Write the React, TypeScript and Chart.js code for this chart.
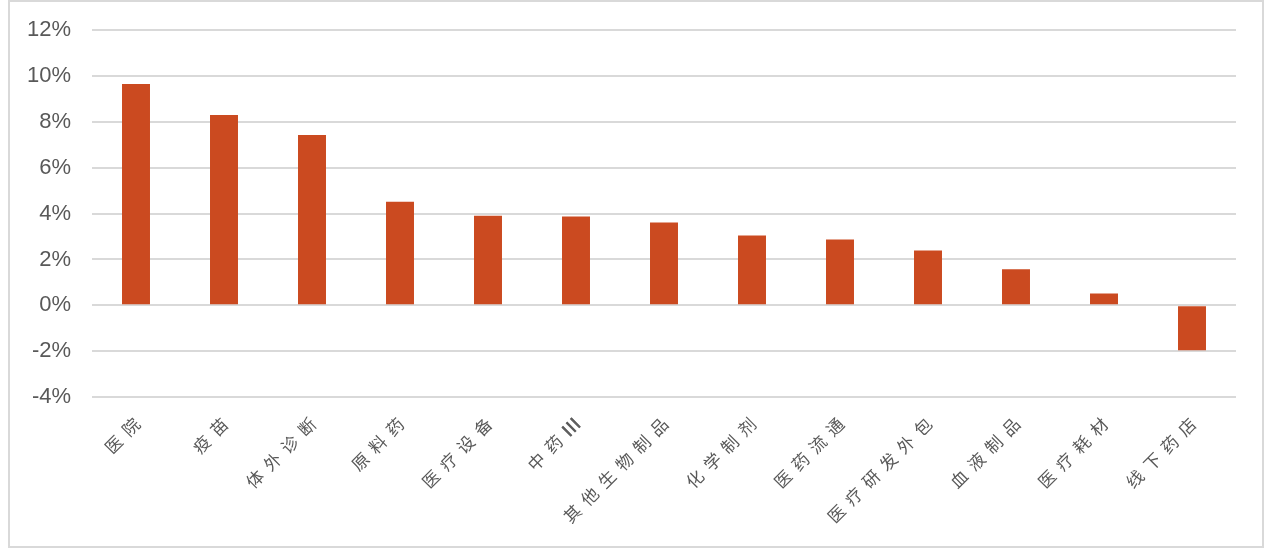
import React, { useEffect, useRef } from "react";
import { Chart, registerables } from "chart.js";

Chart.register(...registerables);

const categories = ["医院", "疫苗", "体外诊断", "原料药", "医疗设备", "中药III", "其他生物制品", "化学制剂", "医药流通", "医疗研发外包", "血液制品", "医疗耗材", "线下药店"];
const values = [9.65, 8.3, 7.43, 4.52, 3.91, 3.87, 3.61, 3.04, 2.87, 2.39, 1.57, 0.52, -1.96];
const yMin = -4;
const yMax = 12;
const yStep = 2;

const LABEL_FONT = "17px 'Noto Sans CJK SC', sans-serif";
const LABEL_SPACING = 7.5;

const isCJK = (c: string) => /[\u3000-\u9fff]/.test(c);

const xLabelPlugin = {
  id: "xLabels",
  afterDraw(chart: any) {
    const ctx = chart.ctx as CanvasRenderingContext2D;
    const xs = chart.scales.x;
    const top = chart.chartArea.bottom + 24;
    ctx.save();
    ctx.font = LABEL_FONT;
    ctx.fillStyle = "#595959";
    ctx.textBaseline = "middle";
    ctx.textAlign = "left";
    categories.forEach((label, i) => {
      const x = xs.getPixelForTick(i);
      const chars = Array.from(label);
      const adv = chars.map((c, k) => {
        const w = ctx.measureText(c).width;
        const next = chars[k + 1];
        return next !== undefined && (isCJK(c) || isCJK(next)) ? w + LABEL_SPACING : w + (next !== undefined ? 1 : 0);
      });
      const total = adv.reduce((a, b) => a + b, 0);
      ctx.save();
      ctx.translate(x + 1, top);
      ctx.rotate(-Math.PI / 4);
      let pos = -total;
      chars.forEach((c, k) => {
        if (isCJK(c)) {
          ctx.fillText(c, pos, 0);
        } else {
          ctx.lineWidth = 0.8;
          ctx.strokeStyle = "#595959";
          ctx.fillText(c, pos, 0);
          ctx.strokeText(c, pos, 0);
        }
        pos += adv[k];
      });
      ctx.restore();
    });
    ctx.restore();
  },
};

export default function App() {
  const ref = useRef<HTMLCanvasElement | null>(null);
  useEffect(() => {
    if (!ref.current) return;
    const chart = new Chart(ref.current, {
      type: "bar",
      data: {
        labels: categories,
        datasets: [
          {
            data: values,
            backgroundColor: "#CB4A20",
            barPercentage: 0.318,
            categoryPercentage: 1,
          },
        ],
      },
      options: {
        animation: false,
        responsive: false,
        maintainAspectRatio: false,
        layout: { padding: { top: 16, right: 26, left: 0, bottom: 0 } },
        plugins: { legend: { display: false }, tooltip: { enabled: false } },
        scales: {
          x: {
            grid: { display: false },
            border: { display: false },
            ticks: { display: false },
            afterFit: (s: any) => {
              s.height = 149;
            },
          },
          y: {
            min: yMin,
            max: yMax,
            grid: { color: "#D9D9D9", lineWidth: 2, drawTicks: false },
            border: { display: false },
            ticks: {
              stepSize: yStep,
              padding: 21,
              color: "#595959",
              font: { family: "'Liberation Sans', Arial, sans-serif", size: 22 },
              callback: (v: any) => `${v}%`,
            },
            afterFit: (s: any) => {
              s.width = 82;
            },
          },
        },
      },
      plugins: [xLabelPlugin],
    });
    return () => chart.destroy();
  }, []);
  return (
    <div
      style={{
        position: "absolute",
        left: 8,
        top: 0,
        width: 1252,
        height: 544,
        border: "2px solid #D9D9D9",
        background: "#fff",
        overflow: "hidden",
      }}
    >
      <canvas ref={ref} width={1252} height={550} style={{ display: "block", marginTop: -6 }} />
    </div>
  );
}
